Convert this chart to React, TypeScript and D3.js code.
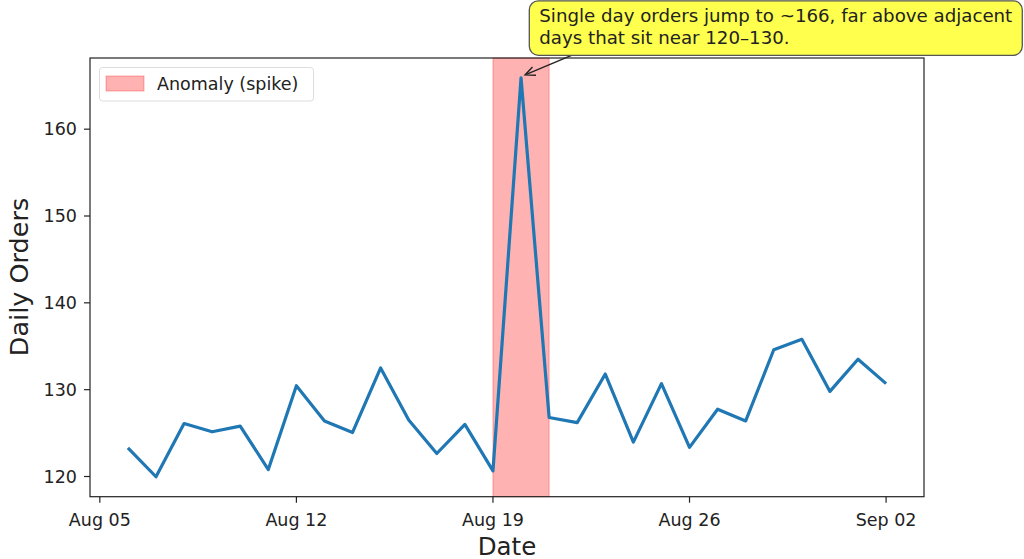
import React from "react";
import * as d3 from "d3";

const dates: string[] = [
  "2024-08-06","2024-08-07","2024-08-08","2024-08-09","2024-08-10","2024-08-11","2024-08-12",
  "2024-08-13","2024-08-14","2024-08-15","2024-08-16","2024-08-17","2024-08-18","2024-08-19",
  "2024-08-20","2024-08-21","2024-08-22","2024-08-23","2024-08-24","2024-08-25","2024-08-26",
  "2024-08-27","2024-08-28","2024-08-29","2024-08-30","2024-08-31","2024-09-01","2024-09-02",
];
const orders: number[] = [
  123.3, 119.97, 126.1, 125.15, 125.8, 120.8, 130.45,
  126.4, 125.07, 132.5, 126.5, 122.65, 126.0, 120.65,
  165.9, 126.8, 126.2, 131.8, 123.96, 130.7, 123.35,
  127.75, 126.4, 134.6, 135.8, 129.8, 133.5, 130.7,
];
const xTickDates: string[] = ["2024-08-05", "2024-08-12", "2024-08-19", "2024-08-26", "2024-09-02"];
const xTickLabels: string[] = ["Aug 05", "Aug 12", "Aug 19", "Aug 26", "Sep 02"];
const yTicks: number[] = [120, 130, 140, 150, 160];
const spanStart = "2024-08-19";
const spanEnd = "2024-08-21";
const spikeDate = "2024-08-20";
const spikeValue = 165.9;
const annotationLines: string[] = [
  "Single day orders jump to ~166, far above adjacent",
  "days that sit near 120–130.",
];
const legendLabel = "Anomaly (spike)";

const parse = (s: string) => new Date(s + "T00:00:00Z");

export default function App() {
  const W = 1024, H = 559;
  const left = 90, right = 924, top = 58, bottom = 496.7;
  const font = "DejaVu Sans, sans-serif";

  const times = dates.map(parse);
  const t0 = +times[0], t1 = +times[times.length - 1];
  const tPad = (t1 - t0) * 0.05;
  const x = d3.scaleUtc().domain([new Date(t0 - tPad), new Date(t1 + tPad)]).range([left, right]);
  const yMin = d3.min(orders)!, yMax = d3.max(orders)!;
  const yPad = (yMax - yMin) * 0.05;
  const y = d3.scaleLinear().domain([yMin - yPad, yMax + yPad]).range([bottom, top]);

  const line = d3.line<number>()
    .x((_, i) => x(times[i]))
    .y((v) => y(v));

  const sx0 = x(parse(spanStart)), sx1 = x(parse(spanEnd));
  const px = x(parse(spikeDate)), py = y(spikeValue);

  // annotation box
  const bx = 529.3, by = 0.8, bw = 493, bh = 54.5;
  const ax0 = 571.5, ay0 = by + bh;
  const ax1 = px + 4, ay1 = py - 3;
  const ang = Math.atan2(ay1 - ay0, ax1 - ax0);
  const hl = 10, hw = 4.5;
  const head = [
    [ax1 - hl * Math.cos(ang) + hw * Math.sin(ang), ay1 - hl * Math.sin(ang) - hw * Math.cos(ang)],
    [ax1, ay1],
    [ax1 - hl * Math.cos(ang) - hw * Math.sin(ang), ay1 - hl * Math.sin(ang) + hw * Math.cos(ang)],
  ];

  return (
    <svg width={W} height={H} style={{ position: "absolute", left: 0, top: 0, background: "#fff" }} fontFamily={font}>
      <rect x={0} y={0} width={W} height={H} fill="#fff" />
      <rect x={sx0} y={top} width={sx1 - sx0} height={bottom - top} fill="rgba(255,0,0,0.3)" stroke="rgba(255,0,0,0.3)" strokeWidth={1} />
      <path d={line(orders) || ""} fill="none" stroke="#1f77b4" strokeWidth={3.2} strokeLinejoin="round" strokeLinecap="butt" />
      <rect x={left} y={top} width={right - left} height={bottom - top} fill="none" stroke="#222" strokeWidth={1.2} />
      {xTickDates.map((d, i) => {
        const xx = x(parse(d));
        return (
          <g key={d}>
            <line x1={xx} x2={xx} y1={bottom} y2={bottom + 6} stroke="#222" strokeWidth={1.2} />
            <text x={xx} y={525.5} textAnchor="middle" fontSize={17.5} fill="#222">{xTickLabels[i]}</text>
          </g>
        );
      })}
      {yTicks.map((v) => (
        <g key={v}>
          <line x1={left - 6} x2={left} y1={y(v)} y2={y(v)} stroke="#222" strokeWidth={1.2} />
          <text x={77} y={y(v)} dy="0.36em" textAnchor="end" fontSize={17.5} fill="#222">{v}</text>
        </g>
      ))}
      <text x={507} y={554.5} textAnchor="middle" fontSize={24.5} fill="#222">Date</text>
      <text transform={`translate(27.5,277) rotate(-90)`} textAnchor="middle" fontSize={25.5} fill="#222">Daily Orders</text>
      {/* legend */}
      <rect x={99.5} y={67.5} width={214} height={33.5} rx={3} fill="rgba(255,255,255,0.8)" stroke="#ddd" strokeWidth={1} />
      <rect x={106} y={76} width={38} height={15} fill="rgba(255,0,0,0.3)" stroke="rgba(255,0,0,0.3)" />
      <text x={157} y={89.5} fontSize={17.5} fill="#222">{legendLabel}</text>
      {/* annotation */}
      <line x1={ax0} y1={ay0} x2={ax1 - 2 * Math.cos(ang)} y2={ay1 - 2 * Math.sin(ang)} stroke="#222" strokeWidth={1.4} />
      <polyline points={head.map((p) => p.join(",")).join(" ")} fill="none" stroke="#222" strokeWidth={1.4} />
      <rect x={bx} y={by} width={bw} height={bh} rx={9} fill="rgb(255,255,77)" stroke="#555" strokeWidth={1.3} />
      {annotationLines.map((t, i) => (
        <text key={i} x={539.3} y={22 + i * 21.7} fontSize={18.2} fill="#222">{t}</text>
      ))}
    </svg>
  );
}
